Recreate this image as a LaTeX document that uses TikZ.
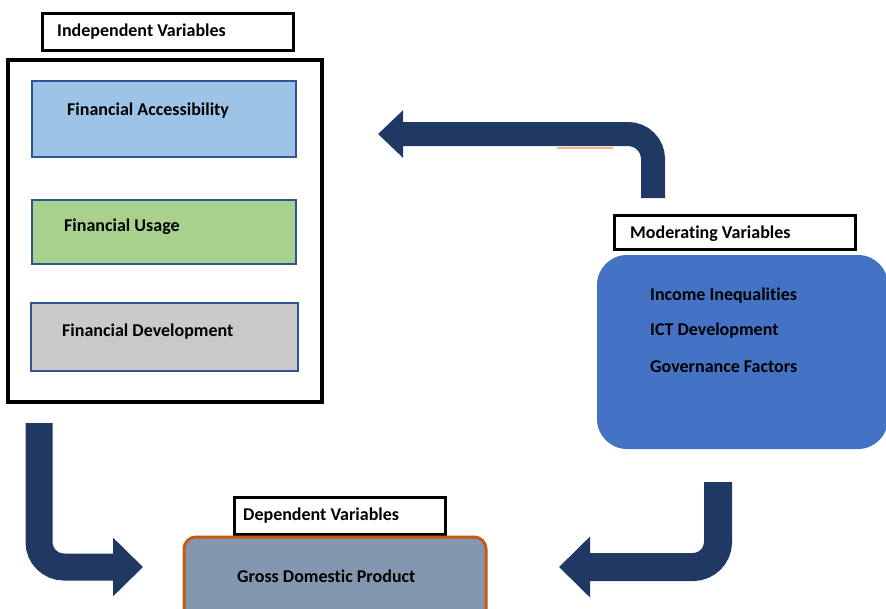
\documentclass[tikz,border=0pt]{standalone}
\usepackage{fontspec}
\setmainfont{Carlito}[Ligatures=NoCommon]
\usetikzlibrary{arrows.meta}

\definecolor{navy}{HTML}{203864}
\definecolor{boxedge}{HTML}{2F5597}
\definecolor{accfill}{HTML}{9DC3E6}
\definecolor{usefill}{HTML}{A9D18E}
\definecolor{devfill}{HTML}{C9C9C9}
\definecolor{modfill}{HTML}{4472C4}
\definecolor{gdpfill}{HTML}{8497B0}
\definecolor{gdpedge}{HTML}{C55A11}
\definecolor{stray}{HTML}{F4B183}

\begin{document}
\begin{tikzpicture}[
    x=1pt, y=-1pt,
    font=\fontsize{18}{21}\selectfont\bfseries,
    labelbox/.style={
        draw,
        line width=3pt,
        inner sep=0pt
    },
    varbox/.style={
        draw=boxedge,
        line width=2.6pt,
        inner sep=0pt
    },
    txt/.style={anchor=west, inner sep=0pt},
    flow/.style={
        draw=navy,
        line width=26pt,
        rounded corners=25pt
    }
]
\useasboundingbox (0,0) rectangle (886,608);
\clip (0,0) rectangle (886,608);

% ---------------------------------------------------------------------------
% Independent variables
% ---------------------------------------------------------------------------
\node[labelbox, minimum width=251pt, minimum height=37pt] (indlabel) at (167.5,31.5) {};
\node[txt] (indtext) at (57,32) {Independent Variables};

\node[draw, line width=4pt, minimum width=314pt, minimum height=342pt] (indbox) at (165,231) {};

\node[varbox, fill=accfill, minimum width=264pt, minimum height=76pt] (access) at (164,119) {};
\node[txt] (acctext) at (67,111) {Financial Accessibility};

\node[varbox, fill=usefill, minimum width=264pt, minimum height=64pt] (usage) at (164,232) {};
\node[txt] (usetext) at (64,227) {Financial Usage};

\node[varbox, fill=devfill, minimum width=267pt, minimum height=68pt] (develop) at (164.5,337) {};
\node[txt] (devtext) at (62,332) {Financial Development};

% ---------------------------------------------------------------------------
% Moderating variables
% ---------------------------------------------------------------------------
\node[labelbox, minimum width=241pt, minimum height=34pt] (modlabel) at (734.5,232) {};
\node[txt] (modtext) at (630,234) {Moderating Variables};

\node[fill=modfill, rounded corners=30pt, minimum width=291pt, minimum height=194pt] (modbox) at (742.5,352) {};
\node[txt] (income) at (650,296) {Income Inequalities};
\node[txt] (ict) at (650,331) {ICT Development};
\node[txt] (govern) at (650,367) {Governance Factors};

% ---------------------------------------------------------------------------
% Dependent variable
% ---------------------------------------------------------------------------
\node[labelbox, minimum width=211pt, minimum height=37pt] (deplabel) at (339.5,515.5) {};
\node[txt] (deptext) at (243,516) {Dependent Variables};

\node[draw=gdpedge, line width=3pt, fill=gdpfill, rounded corners=12pt,
      minimum width=302pt, minimum height=103pt] (gdp) at (335,588.5) {};
\node[txt] (gdptext) at (237,576) {Gross Domestic Product};

% ---------------------------------------------------------------------------
% Block arrows
% ---------------------------------------------------------------------------
\coordinate (modtail) at (653,198);
\coordinate (acctip) at (378,134);
\coordinate (indtail) at (39,423);
\coordinate (gdpleft) at (143,567);
\coordinate (modbottom) at (718,482);
\coordinate (gdpright) at (559,567);

\draw[flow, line width=24pt, -{Triangle[width=46pt,length=25pt]}] (modtail) |- (acctip);
\draw[flow, line width=27pt, -{Triangle[width=57pt,length=30pt]}] (indtail) |- (gdpleft);
\draw[flow, line width=28pt, -{Triangle[width=59pt,length=31pt]}] (modbottom) |- (gdpright);

% stray mark under the top arrow
\coordinate (straya) at (557,148);
\coordinate (strayb) at (613,148);
\draw[stray, line width=1.2pt] (straya) -- (strayb);

\end{tikzpicture}
\end{document}
